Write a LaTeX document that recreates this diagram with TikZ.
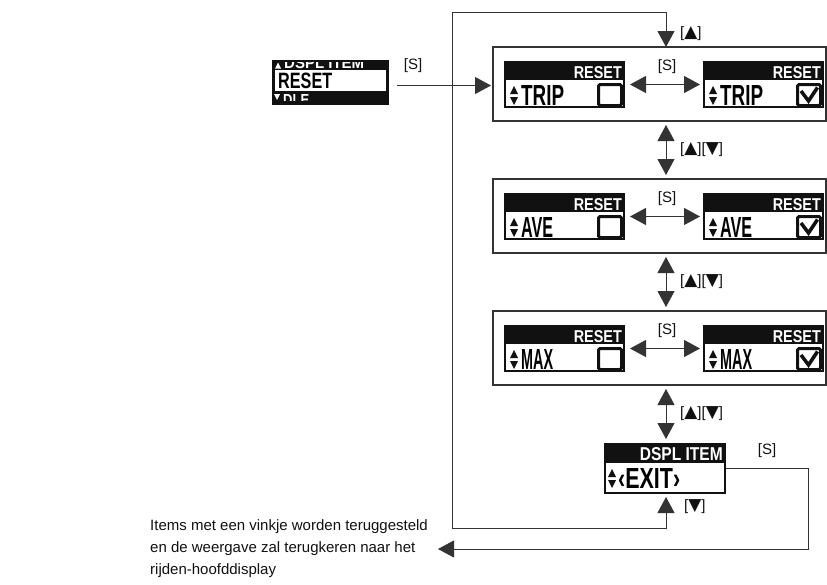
\documentclass[tikz,border=0pt]{standalone}
\usepackage{fontspec}
\usepackage{graphicx}
\setmainfont{Liberation Sans}
\newfontfamily\dejavu{DejaVu Sans}
\newfontfamily\lcdf{Liberation Sans}
\usetikzlibrary{arrows.meta,calc}
\definecolor{lcd}{HTML}{111111}
\definecolor{ln}{HTML}{333333}
\newcommand\lcd[3]{\resizebox{#1pt}{#2pt}{\lcdf\bfseries #3}}
\newcommand\tup{{\dejavu\fontsize{17}{17}\selectfont ▲}}
\newcommand\tdn{{\dejavu\fontsize{17}{17}\selectfont ▼}}
\tikzset{
  scr/.style={fill=lcd, minimum width=121pt, minimum height=47pt, inner sep=0pt, outer sep=0pt, anchor=north west},
  grp/.style={draw=ln, line width=1.1pt, minimum width=333pt, minimum height=74pt, inner sep=0pt, outer sep=0pt, anchor=north west},
  lbl/.style={font=\fontsize{15}{18}\selectfont, inner sep=0pt, text=lcd},
  conn/.style={draw=ln, line width=1pt},
  arr/.style={conn, -{Triangle[length=16pt,width=17pt]}},
  darr/.style={conn, {Triangle[length=16pt,width=17pt]}-{Triangle[length=16pt,width=17pt]}},
  txt/.style={anchor=base west, inner sep=0pt}
}
% #1 name, #2 x, #3 y, #4 word, #5 word width, #6 checked
\newcommand\rscreen[6]{%
  \node[scr] (#1) at (#2,#3) {};
  \fill[white] (#2+2,#3+19) rectangle (#2+119,#3+45);
  \node[anchor=base east, inner sep=0pt, text=white] (#1h) at (#2+118,#3+17) {\lcd{48}{12}{RESET}};
  \fill[lcd] (#2+6,#3+33) -- (#2+14,#3+33) -- (#2+10,#3+25) -- cycle;
  \fill[lcd] (#2+6,#3+36) -- (#2+14,#3+36) -- (#2+10,#3+44) -- cycle;
  \node[txt] (#1w) at (#2+17,#3+44) {\lcd{#5}{20}{#4}};
  \draw[lcd, line width=3pt, rounded corners=1.5pt] (#2+94.5,#3+23.5) rectangle (#2+117.5,#3+44.5);
  \ifnum#6=1 \draw[lcd, line width=3.5pt] (#2+98,#3+30) -- (#2+105.5,#3+40) -- (#2+114.5,#3+26.5);\fi
}
\begin{document}
\begin{tikzpicture}[x=1pt,y=-1pt]
\useasboundingbox (0,0) rectangle (827,584);
\fill[white] (0,0) rectangle (827,584);

% column coordinates
\coordinate (ax) at (666,0);
\coordinate (lt) at (452,12);
\coordinate (lb) at (452,528);
\coordinate (rx) at (808,0);
\coordinate (tip) at (438,549);

% small RESET screen
\node[fill=lcd, minimum width=117pt, minimum height=45pt, inner sep=0pt, outer sep=0pt, anchor=north west] (rs) at (272,60) {};
\fill[white] (275,70) rectangle (386,91);
\node[txt] (rsw) at (278,88.5) {\lcd{54}{15.5}{RESET}};
\begin{scope}
  \clip (272,62) rectangle (389,70);
  \fill[white] (275,68.5) -- (281,68.5) -- (278,62.5) -- cycle;
  \node[txt, text=white] at (284,68.5) {\lcd{80}{11}{DSPL ITEM}};
\end{scope}
\begin{scope}
  \clip (272,91) rectangle (389,100);
  \fill[white] (274,94) -- (280,94) -- (277,100) -- cycle;
  \node[txt, text=white] at (283,105.5) {\lcd{26}{11}{DLE}};
\end{scope}

% group boxes
\node[grp] (b1) at (493,47) {};
\node[grp] (b2) at (493,179) {};
\node[grp] (b3) at (493,311) {};

% screens
\rscreen{t1l}{504}{61}{TRIP}{43}{0}
\rscreen{t1r}{703}{61}{TRIP}{43}{1}
\rscreen{t2l}{504}{193}{AVE}{32}{0}
\rscreen{t2r}{703}{193}{AVE}{32}{1}
\rscreen{t3l}{504}{325}{MAX}{32}{0}
\rscreen{t3r}{703}{325}{MAX}{32}{1}

% EXIT screen
\node[fill=lcd, minimum width=122pt, minimum height=51pt, inner sep=0pt, outer sep=0pt, anchor=north west] (ex) at (604,443) {};
\fill[white] (606,463) rectangle (724,492);
\node[anchor=base east, inner sep=0pt, text=white] (exh) at (723,460) {\lcd{83}{13}{DSPL ITEM}};
\fill[lcd] (608,477) -- (616,477) -- (612,469) -- cycle;
\fill[lcd] (608,480) -- (616,480) -- (612,488) -- cycle;
\node[txt] (exw) at (618,488) {\lcd{62}{20}{‹EXIT›}};

% horizontal [S] arrows
\draw[darr] ([xshift=5pt]t1l.east) -- ([xshift=-3pt]t1r.west);
\draw[darr] ([xshift=5pt]t2l.east) -- ([xshift=-3pt]t2r.west);
\draw[darr] ([xshift=5pt]t3l.east) -- ([xshift=-3pt]t3r.west);
\node[lbl] (s1) at (667,67) {[S]};
\node[lbl] (s2) at (667,199) {[S]};
\node[lbl] (s3) at (667,331) {[S]};

% vertical up/down arrows
\draw[darr] ([yshift=-4pt]b1.south -| ax) -- ([yshift=4pt]b2.north -| ax);
\draw[darr] ([yshift=-4pt]b2.south -| ax) -- ([yshift=4pt]b3.north -| ax);
\draw[darr] ([yshift=-4pt]b3.south -| ax) -- ([yshift=4pt]ex.north -| ax);
\node[lbl, anchor=west] (u1) at (680,150) {[\tup][\tdn]};
\node[lbl, anchor=west] (u2) at (680,282) {[\tup][\tdn]};
\node[lbl, anchor=west] (u3) at (680,414) {[\tup][\tdn]};

% outer loop
\draw[darr] (b1.north -| ax) -- (lt -| ax) -- (lt) -- (lb) -- (lb -| ax) -- ([yshift=-3pt]ex.south -| ax);
\node[lbl, anchor=west] (ltop) at (680,34) {[\tup]};
\node[lbl, anchor=west] (lbot) at (684,507) {[\tdn]};

% input arrow
\draw[arr, shorten >=2pt] ($(rs.east)+(8,3)$) coordinate (ia) -- (ia -| b1.west);
\node[lbl] (sin) at (413,66) {[S]};

% exit arrow
\draw[arr] (ex.east) -- (ex.east -| rx) -- (rx |- tip) -- (tip);
\node[lbl] (sex) at (767,451) {[S]};

% note text
\node[anchor=west, align=left, inner sep=0pt, font=\fontsize{15}{22}\selectfont, text=lcd] (note) at (150,549)
  {Items met een vinkje worden teruggesteld\\en de weergave zal terugkeren naar het\\rijden-hoofddisplay};
\end{tikzpicture}
\end{document}
